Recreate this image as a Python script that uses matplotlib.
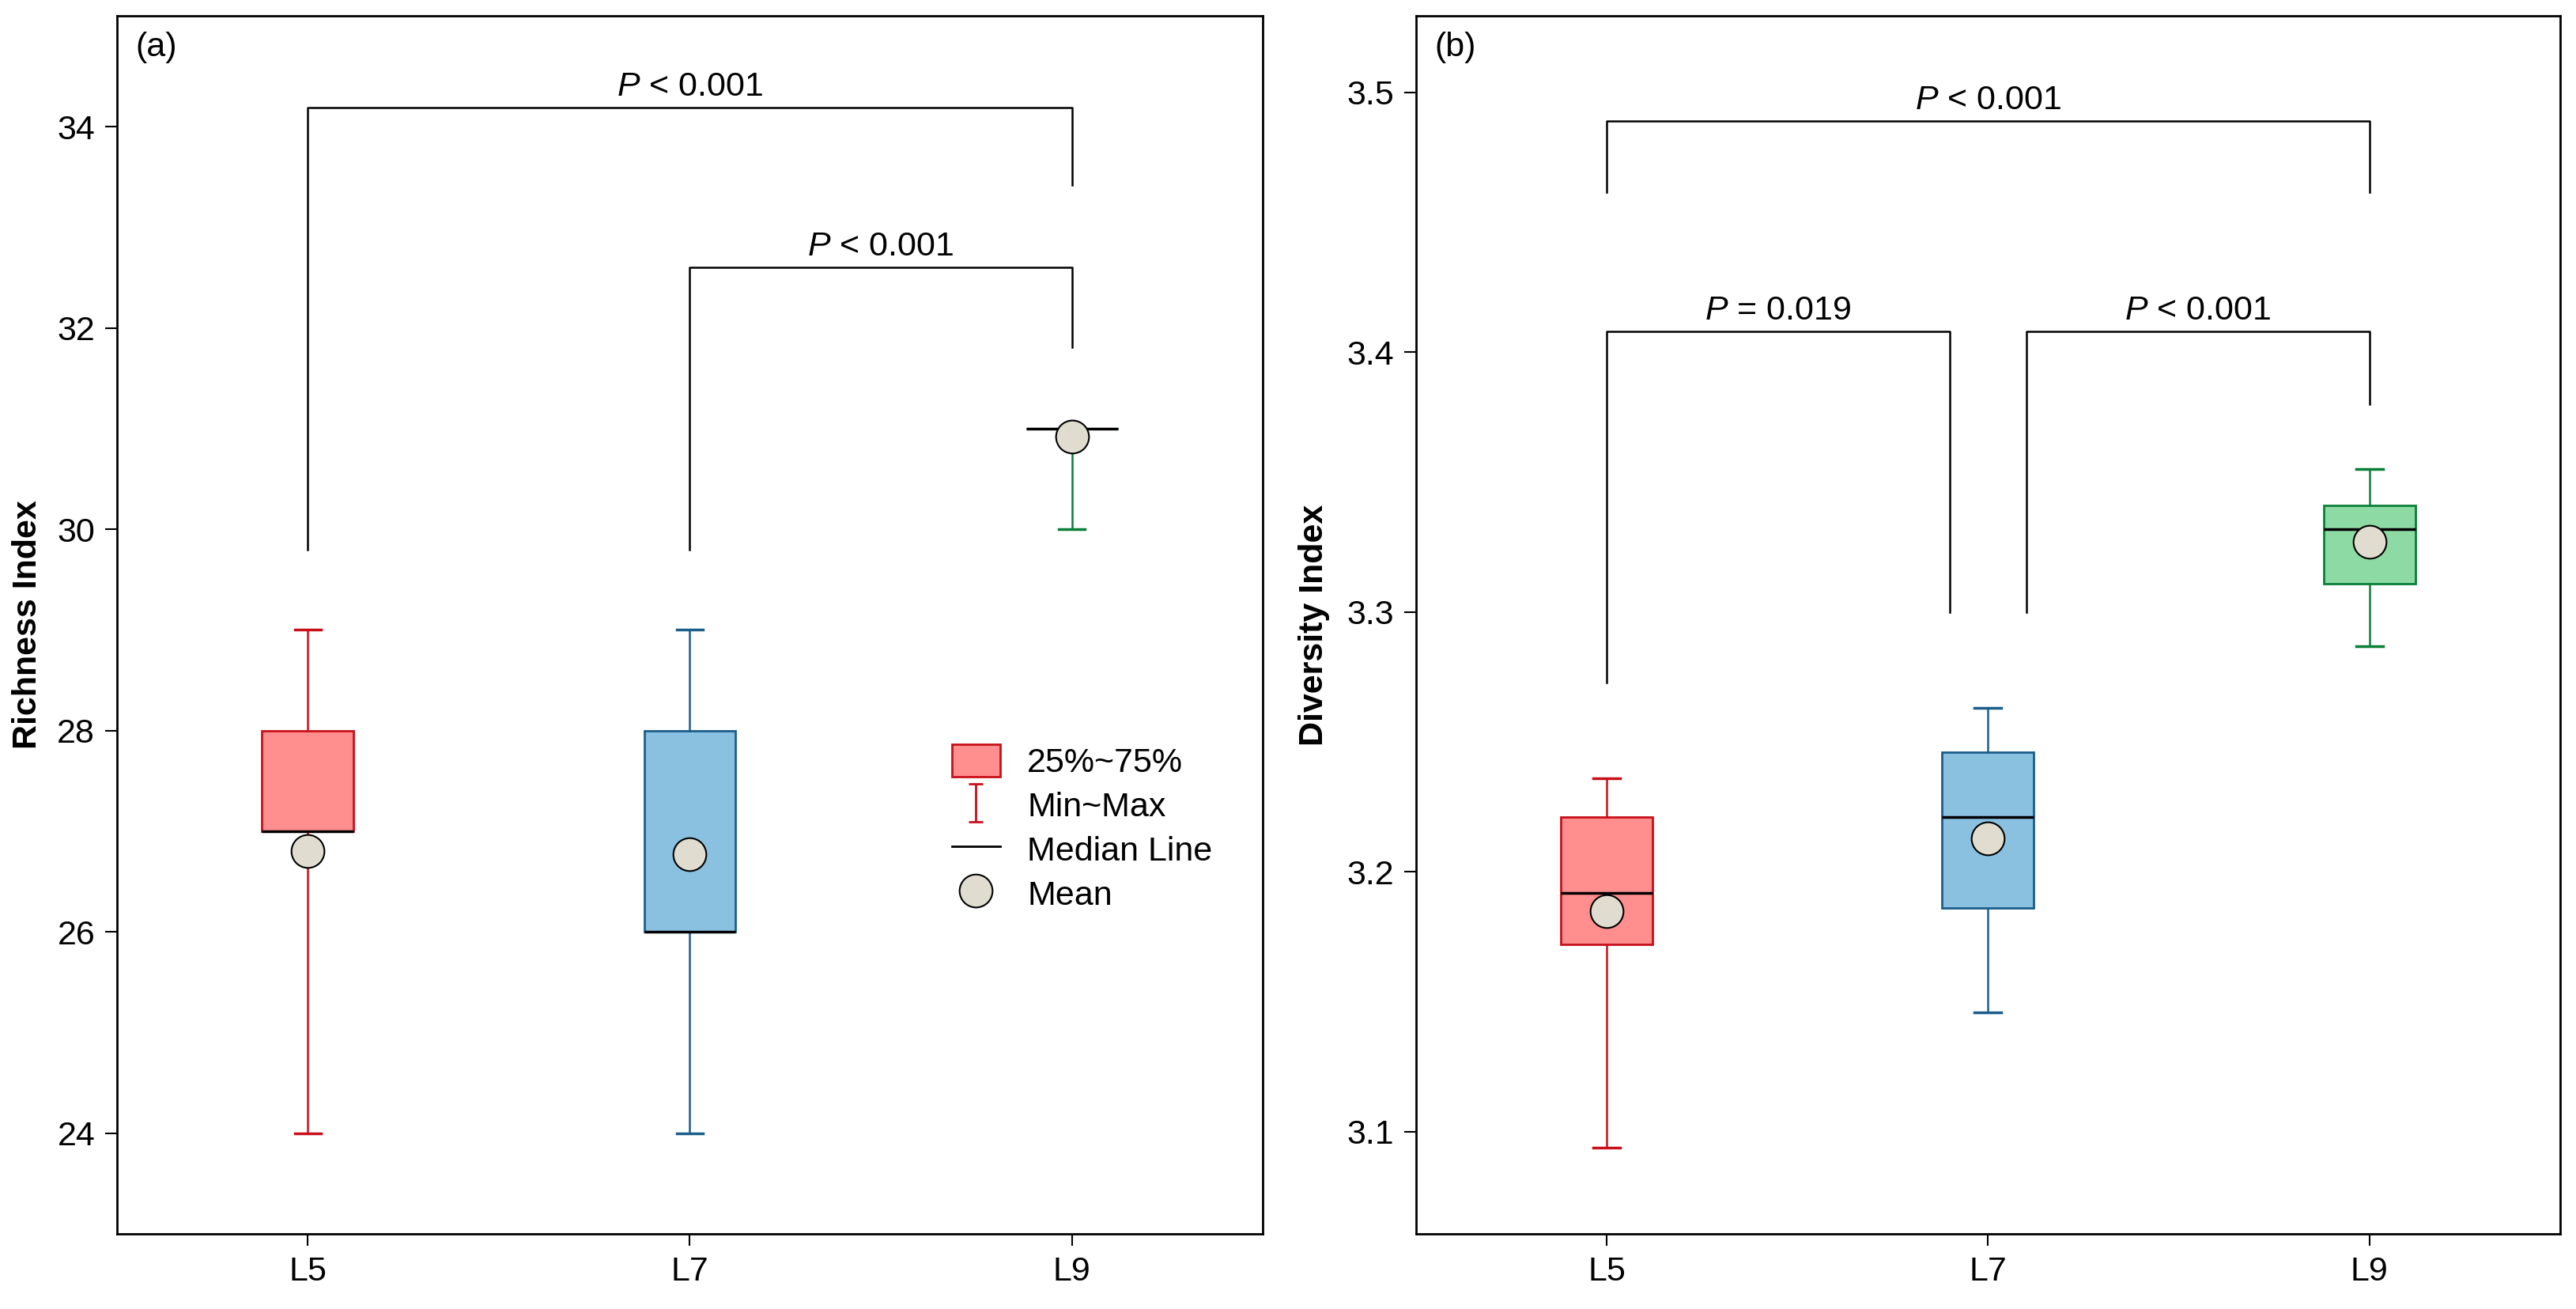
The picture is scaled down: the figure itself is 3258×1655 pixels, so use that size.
import numpy as np
import matplotlib.pyplot as plt
from matplotlib.patches import Patch
from matplotlib.lines import Line2D
from matplotlib.path import Path

plt.rcParams['font.family'] = ['Liberation Sans', 'DejaVu Sans']
plt.rcParams['mathtext.fontset'] = 'custom'
plt.rcParams['mathtext.rm'] = 'Liberation Sans'
plt.rcParams['mathtext.it'] = 'Liberation Sans:italic'

# groups
groups = ['L5', 'L7', 'L9']

# richness index (a)
rich_min = [24, 24, 30]
rich_q1 = [27, 26, 31]
rich_med = [27, 26, 31]
rich_q3 = [28, 28, 31]
rich_max = [29, 29, 31]
rich_mean = [26.80, 26.77, 30.92]

# diversity index (b)
div_min = [3.094, 3.146, 3.287]
div_q1 = [3.172, 3.186, 3.311]
div_med = [3.192, 3.221, 3.332]
div_q3 = [3.221, 3.246, 3.341]
div_max = [3.236, 3.263, 3.355]
div_mean = [3.185, 3.213, 3.327]

# significance brackets: (group i, group j, bar height, left leg end, right leg end, label)
rich_sig = [(0, 2, 34.19, 29.8, 33.42, '$P$ < 0.001'),
            (1, 2, 32.6, 29.8, 31.81, '$P$ < 0.001')]
div_sig = [(0, 2, 3.489, 3.4615, 3.4615, '$P$ < 0.001'),
           (0, 1, 3.408, 3.273, 3.30, '$P$ = 0.019'),
           (1, 2, 3.408, 3.30, 3.38, '$P$ < 0.001')]

fills = ['#FF8E8E', '#8AC1E1', '#8DDAA5']
edges = ['#C8101A', '#1B5E8A', '#0A7F38']
mean_col = '#E0DDD0'
FS = 31

fig = plt.figure(figsize=(32.58, 16.55), dpi=100)
ax1 = fig.add_axes([0.0454, 0.0574, 0.4448, 0.9305])
ax2 = fig.add_axes([0.5497, 0.0574, 0.4441, 0.9305])


def draw_boxes(ax, lo, q1, med, q3, hi, mean):
    stats = []
    for i in range(len(groups)):
        stats.append(dict(whislo=lo[i], q1=q1[i], med=med[i], q3=q3[i],
                          whishi=hi[i], mean=mean[i], fliers=[]))
    pos = np.arange(1, len(groups) + 1)
    bp = ax.bxp(stats, positions=pos, widths=0.24, capwidths=0.07,
                patch_artist=True, showmeans=True,
                medianprops=dict(color='black', linewidth=2.5),
                meanprops=dict(marker='o', markersize=30, markerfacecolor=mean_col,
                               markeredgecolor='black', markeredgewidth=1.5))
    for i, box in enumerate(bp['boxes']):
        box.set_facecolor(fills[i])
        box.set_edgecolor(edges[i])
        box.set_linewidth(2)
        box.set_zorder(2)
        for k in (2 * i, 2 * i + 1):
            bp['whiskers'][k].set_color(edges[i])
            bp['whiskers'][k].set_linewidth(1.8)
            bp['caps'][k].set_color(edges[i])
            bp['caps'][k].set_linewidth(2.5)
        bp['medians'][i].set_zorder(4)
        bp['means'][i].set_zorder(5)
    return pos


def draw_sig(ax, pos, sig, offsets=None):
    for n, (i, j, y, yl, yr, label) in enumerate(sig):
        xl = pos[i]
        xr = pos[j]
        if offsets is not None:
            xl += offsets[n][0]
            xr += offsets[n][1]
        ax.plot([xl, xl, xr, xr], [yl, y, y, yr], color='black', lw=1.8, zorder=3)
        ax.annotate(label, xy=((xl + xr) / 2, y), xytext=(0, 11),
                    textcoords='offset points', ha='center', va='baseline',
                    fontsize=FS)


def style(ax, tag, ylabel):
    ax.set_xlim(0.5, 3.5)
    ax.set_xticks(np.arange(1, len(groups) + 1))
    ax.set_xticklabels(groups)
    ax.tick_params(direction='out', length=11, width=1.5, labelsize=FS, pad=9)
    for s in ax.spines.values():
        s.set_linewidth(2)
    ax.set_ylabel(ylabel, fontsize=FS, fontweight='bold')
    ax.text(0.016, 0.987, tag, transform=ax.transAxes, ha='left', va='top', fontsize=FS)


# (a)
pos = draw_boxes(ax1, rich_min, rich_q1, rich_med, rich_q3, rich_max, rich_mean)
draw_sig(ax1, pos, rich_sig)
style(ax1, '(a)', 'Richness Index')
ax1.set_ylim(23.0, 35.1)
ax1.set_yticks([24, 26, 28, 30, 32, 34])
ax1.yaxis.set_label_coords(-0.064, 0.5)

# I-beam marker for the Min~Max legend entry
ibeam = Path([(-0.4, -1), (0.4, -1), (0, -1), (0, 1), (-0.4, 1), (0.4, 1)],
             [Path.MOVETO, Path.LINETO, Path.MOVETO, Path.LINETO, Path.MOVETO, Path.LINETO])
handles = [Patch(facecolor=fills[0], edgecolor=edges[0], linewidth=2),
           Line2D([], [], ls='none', marker=ibeam, markersize=34, markerfacecolor='none',
                  markeredgecolor=edges[0], markeredgewidth=2),
           Line2D([], [], color='black', lw=2),
           Line2D([], [], ls='none', marker='o', markersize=30, markerfacecolor=mean_col,
                  markeredgecolor='black', markeredgewidth=1.5)]
ax1.legend(handles, ['25%~75%', 'Min~Max', 'Median Line', 'Mean'],
           loc='upper left', bbox_to_anchor=(0.729, 0.402), frameon=False,
           fontsize=FS, handlelength=1.4, handleheight=1.1, handletextpad=0.8,
           labelspacing=0.27, borderpad=0, borderaxespad=0)

# (b)
pos = draw_boxes(ax2, div_min, div_q1, div_med, div_q3, div_max, div_mean)
draw_sig(ax2, pos, div_sig, offsets=[(0, 0), (0, -0.1), (0.1, 0)])
style(ax2, '(b)', 'Diversity Index')
ax2.set_ylim(3.0607, 3.5295)
ax2.set_yticks([3.1, 3.2, 3.3, 3.4, 3.5])
ax2.set_yticklabels(['3.1', '3.2', '3.3', '3.4', '3.5'])
ax2.yaxis.set_label_coords(-0.075, 0.5)

fig.savefig('out.png', dpi=100)
